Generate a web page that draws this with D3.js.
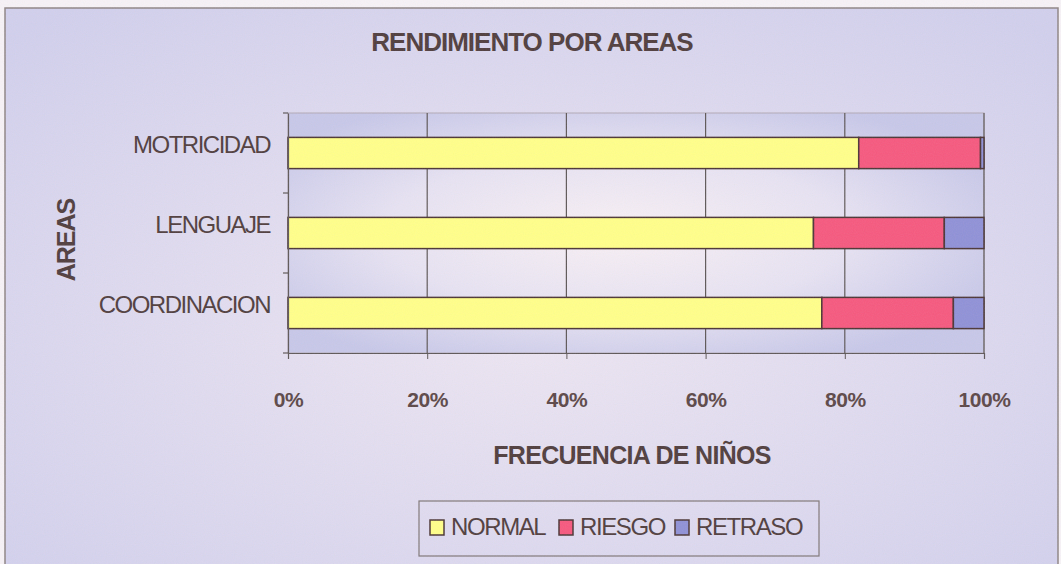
<!DOCTYPE html>
<html>
<head>
<meta charset="utf-8">
<script src="https://cdn.jsdelivr.net/npm/d3@7"></script>
<style>
  body { margin: 0; background: #ffffff; }
  svg { display: block; font-family: Arial, "Liberation Sans", sans-serif; }
</style>
</head>
<body>
<svg id="chart" width="1061" height="564"></svg>
<script>
// chart values
let areas = ["MOTRICIDAD", "LENGUAJE", "COORDINACION"];
let normal = [82.0, 75.5, 76.7];
let riesgo = [17.5, 18.8, 18.9];
let retraso = [0.5, 5.7, 4.4];
let seriesNames = ["NORMAL", "RIESGO", "RETRASO"];
let seriesColors = ["#ffff88", "#f5577d", "#8e90d6"];
let xTicks = [0, 20, 40, 60, 80, 100];

let svg = d3.select("#chart");
let textColor = "#4e3c3c";

let rows = areas.map((a, i) => ({ area: a, NORMAL: normal[i], RIESGO: riesgo[i], RETRASO: retraso[i] }));
let stacked = d3.stack().keys(seriesNames)(rows);

let x = d3.scaleLinear().domain([0, 100]).range([288, 984]);
let y = d3.scaleBand().domain(areas).range([113, 353]).paddingInner(0.61).paddingOuter(0.305);
let color = d3.scaleOrdinal().domain(seriesNames).range(seriesColors);

//gradients + grain
let defs = svg.append("defs");
let bgGrad = defs.append("radialGradient").attr("id", "bgGrad")
                 .attr("cx", "0.5").attr("cy", "0.55").attr("r", "0.7");
bgGrad.append("stop").attr("offset", "0%").attr("stop-color", "#ede6f2");
bgGrad.append("stop").attr("offset", "100%").attr("stop-color", "#d0cfec");

let plotGrad = defs.append("radialGradient").attr("id", "plotGrad")
                   .attr("cx", "0.47").attr("cy", "0.5").attr("r", "0.6");
plotGrad.append("stop").attr("offset", "0%").attr("stop-color", "#f8f0f4");
plotGrad.append("stop").attr("offset", "55%").attr("stop-color", "#e6e2f2");
plotGrad.append("stop").attr("offset", "100%").attr("stop-color", "#c6c7e8");

let grain = defs.append("filter").attr("id", "grain")
                .attr("x", 0).attr("y", 0).attr("width", "100%").attr("height", "100%");
grain.append("feTurbulence").attr("type", "fractalNoise").attr("baseFrequency", 0.9)
     .attr("numOctaves", 1).attr("seed", 3).attr("result", "noise");
grain.append("feColorMatrix").attr("in", "noise").attr("type", "matrix")
     .attr("values", "1.3 0 0 0 0.1  0 0.4 0 0 0.45  0 0 1.2 0 0.1  0 0 0 0.22 0");

//background
svg.append("rect").attr("width", 1061).attr("height", 564).attr("fill", "#f6f2f6");
svg.append("rect")
   .attr("x", 5).attr("y", 8).attr("width", 1053).attr("height", 570)
   .attr("fill", "url(#bgGrad)")
   .attr("stroke", "#8d8484").attr("stroke-width", 1.5);

//plot area
svg.append("rect")
   .attr("x", x(0)).attr("y", 113)
   .attr("width", x(100) - x(0)).attr("height", 240)
   .attr("fill", "url(#plotGrad)")
   .attr("stroke", "#b0a8b4").attr("stroke-width", 1);

//vertical gridlines
svg.append("g")
   .selectAll("line")
   .data(xTicks.slice(1))
   .enter()
   .append("line")
   .attr("x1", (d) => x(d)).attr("x2", (d) => x(d))
   .attr("y1", 113).attr("y2", 353)
   .attr("stroke", "#5c5656").attr("stroke-width", 1.2);

//bars
let layer = svg.append("g")
               .selectAll("g")
               .data(stacked)
               .enter()
               .append("g")
               .attr("fill", (d) => color(d.key));

layer.selectAll("rect")
     .data((d) => d)
     .enter()
     .append("rect")
     .attr("x", (d) => x(d[0]))
     .attr("y", (d) => y(d.data.area))
     .attr("width", (d) => x(d[1]) - x(d[0]))
     .attr("height", y.bandwidth())
     .attr("stroke", "#4a3434")
     .attr("stroke-width", 1.5);

//axes
let xAxis = svg.append("g")
               .attr("transform", "translate(0,353)")
               .call(d3.axisBottom(x).tickValues(xTicks).tickSize(6).tickFormat((d) => d + "%").tickPadding(33));
xAxis.select(".domain").attr("stroke", "#5c5656").attr("stroke-width", 1.2);
xAxis.selectAll(".tick line").attr("stroke", "#5c5656");
xAxis.selectAll("text")
     .attr("fill", "#5a4646")
     .style("font-size", "21px")
     .style("font-weight", "bold")
     .style("letter-spacing", "-0.4px");

let yAxis = svg.append("g")
               .attr("transform", `translate(${x(0)},0)`)
               .call(d3.axisLeft(y).tickSize(0).tickPadding(18));
yAxis.select(".domain").attr("stroke", "#5c5656").attr("stroke-width", 1.2);
yAxis.selectAll("text")
     .attr("fill", textColor)
     .attr("dy", "-0.02em")
     .style("font-size", "24px")
     .style("letter-spacing", "-1.5px");

//category tick marks on band edges
svg.append("g")
   .selectAll("line")
   .data([113, 193, 273, 353])
   .enter()
   .append("line")
   .attr("x1", x(0) - 5).attr("x2", x(0))
   .attr("y1", (d) => d).attr("y2", (d) => d)
   .attr("stroke", "#5c5656").attr("stroke-width", 1.2);

//titles
svg.append("text")
   .text("RENDIMIENTO POR AREAS")
   .attr("x", 532).attr("y", 51)
   .attr("text-anchor", "middle")
   .attr("fill", textColor)
   .style("font-size", "26px")
   .style("font-weight", "bold")
   .style("letter-spacing", "-1px");

svg.append("text")
   .text("FRECUENCIA DE NIÑOS")
   .attr("x", 632).attr("y", 464)
   .attr("text-anchor", "middle")
   .attr("fill", textColor)
   .style("font-size", "25px")
   .style("font-weight", "bold")
   .style("letter-spacing", "-0.7px");

svg.append("text")
   .text("AREAS")
   .attr("transform", "translate(75,240) rotate(-90)")
   .attr("text-anchor", "middle")
   .attr("fill", textColor)
   .style("font-size", "25px")
   .style("font-weight", "bold")
   .style("letter-spacing", "-1px");

//legend
let legend = svg.append("g");
legend.append("rect")
      .attr("x", 419).attr("y", 501).attr("width", 400).attr("height", 55)
      .attr("fill", "none").attr("stroke", "#7e7676").attr("stroke-width", 1.2);

let legendX = [430, 559, 675];
let item = legend.selectAll("g")
                 .data(seriesNames)
                 .enter()
                 .append("g")
                 .attr("transform", (d, i) => `translate(${legendX[i]}, 520)`);

item.append("rect")
    .attr("width", 14).attr("height", 15)
    .attr("fill", (d) => color(d))
    .attr("stroke", "#4a3434").attr("stroke-width", 1.5);

item.append("text")
    .text((d) => d)
    .attr("x", 21).attr("y", 15)
    .attr("fill", textColor)
    .style("font-size", "24px")
    .style("letter-spacing", "-1.4px");

//grain overlay
svg.append("rect")
   .attr("width", 1061).attr("height", 564)
   .attr("filter", "url(#grain)")
   .attr("opacity", 0.5)
   .style("pointer-events", "none");
</script>
</body>
</html>
